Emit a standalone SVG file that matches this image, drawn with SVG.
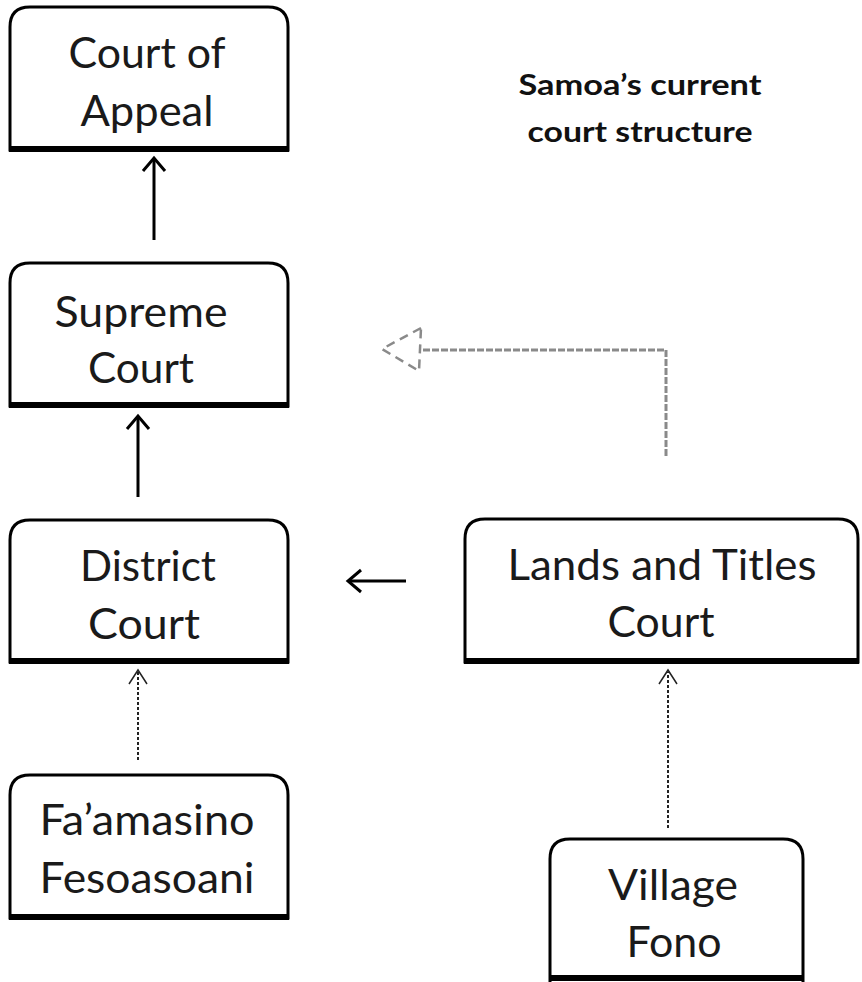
<svg xmlns="http://www.w3.org/2000/svg" width="862" height="982" viewBox="0 0 862 982">
<style>
.box{fill:#fff;stroke:#000;stroke-width:3}
.base{stroke:#000;stroke-width:6;fill:none}
.t{font-family:Lato,"Open Sans","Liberation Sans",sans-serif;font-size:42px;fill:#1a1a1a;text-anchor:middle}
.title{font-family:Lato,"Open Sans","Liberation Sans",sans-serif;font-size:29px;font-weight:bold;fill:#111;text-anchor:middle}
.solid{stroke:#000;stroke-width:3;fill:none}
.dot{stroke:#222;stroke-width:2;fill:none;stroke-dasharray:3 2}
.head{stroke:#222;stroke-width:1.5;fill:none}
.grey{stroke:#8a8a8a;stroke-width:3;fill:none;stroke-dasharray:7 2}
.greyhead{stroke:#8a8a8a;stroke-width:2.5;fill:none;stroke-dasharray:9 6}
</style>
<rect width="862" height="982" fill="#fff"/>
<text class="title" x="640" y="95" textLength="243" lengthAdjust="spacingAndGlyphs">Samoa’s current</text>
<text class="title" x="640" y="142" textLength="225" lengthAdjust="spacingAndGlyphs">court structure</text>

<g id="appeal">
<path class="box" d="M10,150 V27 Q10,7 30,7 H268 Q288,7 288,27 V150 Z"/>
<line class="base" x1="9" y1="149" x2="289" y2="149"/>
<text class="t" x="147" y="68" textLength="157" lengthAdjust="spacingAndGlyphs">Court of</text>
<text class="t" x="147" y="126" textLength="133" lengthAdjust="spacingAndGlyphs">Appeal</text>
</g>

<g id="supreme">
<path class="box" d="M10,406 V283 Q10,263 30,263 H268 Q288,263 288,283 V406 Z"/>
<line class="base" x1="9" y1="405" x2="289" y2="405"/>
<text class="t" x="141" y="327" textLength="173" lengthAdjust="spacingAndGlyphs">Supreme</text>
<text class="t" x="141" y="383" textLength="106" lengthAdjust="spacingAndGlyphs">Court</text>
</g>

<g id="district">
<path class="box" d="M10,662 V540 Q10,520 30,520 H268 Q288,520 288,540 V662 Z"/>
<line class="base" x1="9" y1="661" x2="289" y2="661"/>
<text class="t" x="148" y="581" textLength="136" lengthAdjust="spacingAndGlyphs">District</text>
<text class="t" x="144" y="639" textLength="112" lengthAdjust="spacingAndGlyphs">Court</text>
</g>

<g id="faamasino">
<path class="box" d="M10,918 V795 Q10,775 30,775 H268 Q288,775 288,795 V918 Z"/>
<line class="base" x1="9" y1="917" x2="289" y2="917"/>
<text class="t" x="147" y="835" textLength="215" lengthAdjust="spacingAndGlyphs">Fa’amasino</text>
<text class="t" x="147" y="893" textLength="215" lengthAdjust="spacingAndGlyphs">Fesoasoani</text>
</g>

<g id="lands">
<path class="box" d="M465,662 V539 Q465,519 485,519 H838 Q858,519 858,539 V662 Z"/>
<line class="base" x1="464" y1="661" x2="859" y2="661"/>
<text class="t" x="662" y="580" textLength="309" lengthAdjust="spacingAndGlyphs">Lands and Titles</text>
<text class="t" x="661" y="637" textLength="107" lengthAdjust="spacingAndGlyphs">Court</text>
</g>

<g id="village">
<path class="box" d="M550,982 V859 Q550,839 570,839 H783 Q803,839 803,859 V982"/>
<line class="base" x1="549" y1="978" x2="804" y2="978"/>
<text class="t" x="673" y="900" textLength="130" lengthAdjust="spacingAndGlyphs">Village</text>
<text class="t" x="674" y="957" textLength="95" lengthAdjust="spacingAndGlyphs">Fono</text>
</g>

<g id="connectors">
<line class="solid" x1="154" y1="240" x2="154" y2="159"/>
<polyline class="solid" points="143,171 154,158 165,171"/>
<line class="solid" x1="138" y1="497" x2="138" y2="417"/>
<polyline class="solid" points="127,429 138,416 149,429"/>
<line class="solid" x1="406" y1="581" x2="349" y2="581"/>
<polyline class="solid" points="361,570 348,581 361,592"/>
<line class="dot" x1="138" y1="760" x2="138" y2="672"/>
<polyline class="head" points="129,684 138,670 147,684"/>
<line class="dot" x1="668" y1="828" x2="668" y2="672"/>
<polyline class="head" points="659,684 668,670 677,684"/>
<polyline class="grey" points="666,456 666,350 421,350"/>
<polygon class="greyhead" points="421,328 382,349 419,371"/>
</g>
</svg>
